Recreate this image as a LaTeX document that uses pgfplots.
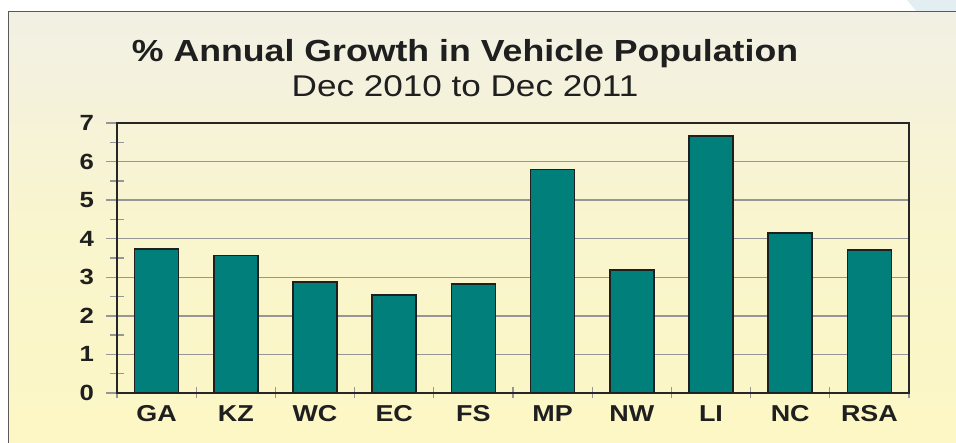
\documentclass[border=0pt]{standalone}
\usepackage{fontspec}
\setmainfont{Liberation Sans}[FakeStretch=1.17]
\usepackage{pgfplots}
\pgfplotsset{compat=1.18}
\definecolor{teal1}{RGB}{0,127,123}
\definecolor{bgtop}{RGB}{242,240,228}
\definecolor{bgbot}{RGB}{252,247,196}
\definecolor{gridgray}{RGB}{150,150,150}
\definecolor{framec}{RGB}{90,90,90}
\definecolor{lblue}{RGB}{226,238,242}
\begin{document}
\begin{tikzpicture}[x=1pt,y=1pt]
\fill[white] (0,0) rectangle (956,443);
\fill[lblue] (907,443) -- (956,443) -- (956,431) -- (917,431) -- cycle;
\shade[top color=bgtop, bottom color=bgbot, middle color=bgbot!70!bgtop] (8,0) rectangle (956,431);
\draw[framec, line width=1pt] (8,0) -- (8,431) -- (956,431);
\node[anchor=base, font=\bfseries\fontsize{30.5}{30}\selectfont, text=black!88] at (465,381) {\% Annual Growth in Vehicle Population};
\node[anchor=base, font=\fontsize{30}{30}\selectfont, text=black!88] at (465,346) {Dec 2010 to Dec 2011};
\begin{axis}[
  at={(117pt,50pt)}, anchor=south west,
  scale only axis, width=792pt, height=270pt,
  xmin=-0.5, xmax=9.5, ymin=0, ymax=7,
  ybar, bar width=44pt,
  xtick={-0.5,0.5,...,9.5},
  xticklabels={GA,KZ,WC,EC,FS,MP,NW,LI,NC,RSA},
  x tick label as interval,
  ytick={0,1,2,3,4,5,6,7},
  yticklabels={0,1,2,3,4,5,6,7},
  minor ytick={0.5,1.5,...,6.5},
  tick align=center,
  xtick pos=bottom, ytick pos=left,
  major tick length=11pt,
  ytick style={gridgray, line width=1.3pt, /pgfplots/major tick length=21pt, /pgfplots/minor tick length=14pt},
  xtick style={gridgray, line width=1.3pt},
  ymajorgrids=true,
  major grid style={gridgray, line width=1.3pt},
  axis line style={black!85, line width=1.3pt},
  y tick label style={font=\fontsize{22}{22}\selectfont\bfseries, text=black!88, anchor=east, xshift=-14pt},
  x tick label style={font=\fontsize{23}{23}\selectfont\bfseries, text=black!88, anchor=north, text height=16.5pt, text depth=0pt, yshift=-3pt},
]
\addplot[fill=teal1, draw=black!88, line width=1.6pt] coordinates {
  (0,3.74) (1,3.56) (2,2.88) (3,2.54) (4,2.83) (5,5.79) (6,3.19) (7,6.67) (8,4.15) (9,3.70)
};
\end{axis}
\pgfresetboundingbox
\useasboundingbox (0,0) rectangle (956,443);
\end{tikzpicture}
\end{document}
